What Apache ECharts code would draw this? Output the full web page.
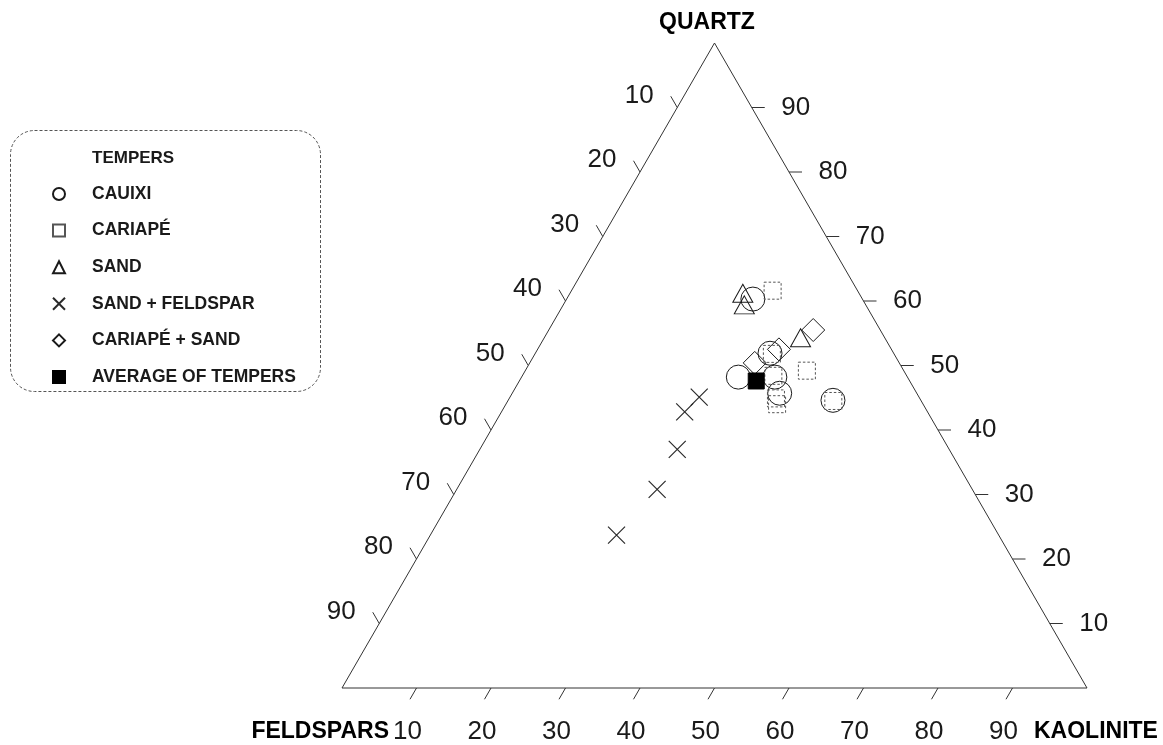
<!DOCTYPE html>
<html>
<head>
<meta charset="utf-8">
<title>Tempers – ternary diagram</title>
<script src="https://cdn.jsdelivr.net/npm/echarts@6/dist/echarts.min.js"></script>
<style>
  html, body { margin: 0; padding: 0; background: #ffffff; }
  #chart { width: 1163px; height: 745px; }
</style>
</head>
<body>
<div id="chart"></div>
<script>
// Compositions as [quartz, feldspars, kaolinite] in percent
const cauixi = [[60.3, 14.7, 25.0], [51.9, 16.6, 31.5], [48.2, 22.7, 29.1], [48.2, 17.8, 34.0], [45.7, 18.4, 35.9], [44.6, 11.8, 43.6]];
const cariape = [[61.6, 11.4, 27.0], [51.8, 16.4, 31.8], [49.2, 13.0, 37.8], [48.4, 17.9, 33.7], [44.9, 19.3, 35.8], [44.0, 19.6, 36.4], [44.5, 11.8, 43.7]];
const sand = [[61.2, 15.6, 23.2], [59.4, 16.3, 24.3], [54.3, 11.3, 34.4]];
const sandFeldspar = [[45.1, 29.5, 25.4], [42.8, 32.6, 24.6], [37.0, 36.5, 26.5], [30.8, 42.3, 26.9], [23.7, 51.3, 25.0]];
const cariapeSand = [[55.5, 9.0, 35.5], [52.5, 15.1, 32.4], [50.4, 19.4, 30.2]];
const averageOfTempers = [[47.6, 20.6, 31.8]];

const tickValues = [10, 20, 30, 40, 50, 60, 70, 80, 90];
const seriesNames = ['CAUIXI', 'CARIAPÉ', 'SAND', 'SAND + FELDSPAR', 'CARIAPÉ + SAND', 'AVERAGE OF TEMPERS'];

// Ternary -> cartesian (side length 100, kaolinite to the right, quartz on top)
const H = Math.sqrt(3) / 2;
function toXY(q, f, k) { return [k + q / 2, q * H]; }
const toPoints = rows => rows.map(r => toXY(r[0], r[1], r[2]));

const FONT = '"Liberation Sans", Arial, Helvetica, sans-serif';
const INK = '#1a1a1a';
const TICK_LEN = 13;

// Tick items: [side, value]; side 0 = kaolinite (base), 1 = feldspars (left), 2 = quartz (right)
const tickData = [];
[0, 1, 2].forEach(side => tickValues.forEach(v => tickData.push([side, v])));

function renderTick(params, api) {
  const side = api.value(0), v = api.value(1);
  let p, dx, dy, lx, ly;
  if (side === 0) {
    p = api.coord(toXY(0, 100 - v, v));
    dx = -0.5 * TICK_LEN; dy = H * TICK_LEN; lx = -9; ly = 44;
  } else if (side === 1) {
    p = api.coord(toXY(100 - v, v, 0));
    dx = -0.5 * TICK_LEN; dy = -H * TICK_LEN; lx = -38; ly = -12;
  } else {
    p = api.coord(toXY(v, 0, 100 - v));
    dx = TICK_LEN; dy = 0; lx = 44; ly = 0;
  }
  return {
    type: 'group',
    children: [
      { type: 'line', shape: { x1: p[0], y1: p[1], x2: p[0] + dx, y2: p[1] + dy },
        style: { stroke: '#333', lineWidth: 1 } },
      { type: 'text',
        style: { text: String(v), x: p[0] + lx, y: p[1] + ly, align: 'center', verticalAlign: 'middle',
                 fontSize: 26, fontFamily: FONT, fill: INK } }
    ]
  };
}

const hollow = { color: 'rgba(0,0,0,0)', borderColor: '#1a1a1a', borderWidth: 1, opacity: 1 };
const dotted = { color: 'rgba(0,0,0,0)', borderColor: '#555', borderWidth: 1, borderType: [2.5, 2], opacity: 1 };
const crossPath = 'path://M0,0L10,10M10,0L0,10';

const chart = echarts.init(document.getElementById('chart'));
chart.setOption({
  animation: false,
  backgroundColor: '#ffffff',
  grid: { left: 342, top: 43, width: 745, height: 645 },
  xAxis: { type: 'value', min: 0, max: 100, show: false },
  yAxis: { type: 'value', min: 0, max: 100 * H, show: false },
  legend: {
    orient: 'vertical', left: 47, top: 180,
    itemWidth: 12, itemHeight: 12, itemGap: 18.6,
    selectedMode: false,
    data: seriesNames,
    textStyle: { fontSize: 17.5, fontWeight: 'bold', fontFamily: FONT, color: INK, lineHeight: 17, padding: [0, 0, 0, 22] }
  },
  graphic: [
    { type: 'rect', left: 8, top: 128, shape: { width: 310, height: 261, r: 24 },
      style: { fill: 'none', stroke: '#555', lineWidth: 1, lineDash: [3, 2] }, z: 0 },
    { type: 'text', left: 92, top: 150,
      style: { text: 'TEMPERS', fontSize: 17, fontWeight: 'bold', fontFamily: FONT, fill: INK } },
    { type: 'text', x: 707, y: 23,
      style: { text: 'QUARTZ', align: 'center', verticalAlign: 'middle', fontSize: 23, fontWeight: 'bold', fontFamily: FONT, fill: '#000' } },
    { type: 'text', x: 389, y: 732,
      style: { text: 'FELDSPARS', align: 'right', verticalAlign: 'middle', fontSize: 23, fontWeight: 'bold', fontFamily: FONT, fill: '#000' } },
    { type: 'text', x: 1034, y: 732,
      style: { text: 'KAOLINITE', align: 'left', verticalAlign: 'middle', fontSize: 23, fontWeight: 'bold', fontFamily: FONT, fill: '#000' } }
  ],
  series: [
    { // triangle outline
      type: 'line', silent: true, symbol: 'none', clip: false,
      data: [toXY(0, 100, 0), toXY(0, 0, 100), toXY(100, 0, 0), toXY(0, 100, 0)],
      lineStyle: { color: '#333', width: 1 }, z: 1
    },
    { // ticks and tick labels on the three sides
      type: 'custom', silent: true, clip: false, renderItem: renderTick,
      data: tickData, z: 1
    },
    { name: seriesNames[0], type: 'scatter', symbol: 'circle', symbolSize: 24,
      data: toPoints(cauixi), itemStyle: hollow, z: 3 },
    { name: seriesNames[1], type: 'scatter', symbol: 'rect', symbolSize: 17,
      data: toPoints(cariape), itemStyle: dotted, z: 3 },
    { name: seriesNames[2], type: 'scatter', symbol: 'triangle', symbolSize: [20, 18],
      data: toPoints(sand), itemStyle: hollow, z: 3 },
    { name: seriesNames[3], type: 'scatter', symbol: crossPath, symbolSize: 17,
      data: toPoints(sandFeldspar), itemStyle: { color: 'rgba(0,0,0,0)', borderColor: '#2a2a2a', borderWidth: 1.2, opacity: 1 }, z: 3 },
    { name: seriesNames[4], type: 'scatter', symbol: 'diamond', symbolSize: 23,
      data: toPoints(cariapeSand), itemStyle: hollow, z: 3 },
    { name: seriesNames[5], type: 'scatter', symbol: 'rect', symbolSize: 16,
      data: toPoints(averageOfTempers), itemStyle: { color: '#000', borderColor: '#000', borderWidth: 1, opacity: 1 }, z: 4 }
  ]
});
</script>
</body>
</html>
